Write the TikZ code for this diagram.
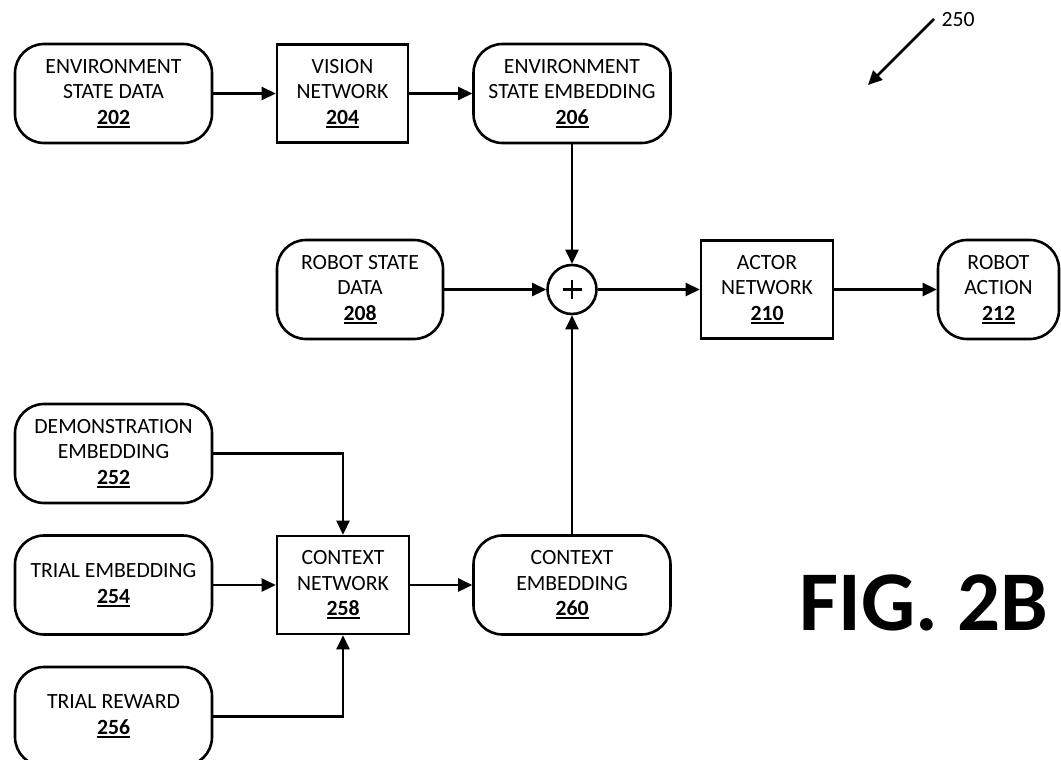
\documentclass[tikz,border=0pt]{standalone}
\usepackage{fontspec}
\setmainfont{Carlito}
\usetikzlibrary{arrows.meta}
\newcommand\rnum[1]{\setbox0\hbox{\textbf{#1}}\rlap{\rule[-3.5pt]{\wd0}{1.8pt}}\box0}
\begin{document}
\begin{tikzpicture}[x=1pt,y=-1pt,
  every node/.style={font=\fontsize{21.7}{25.5}\selectfont, align=center, inner sep=0pt},
  rbox/.style={draw, line width=2.6pt, rounded corners=29pt, minimum width=197pt, minimum height=99pt},
  sbox/.style={draw, line width=2.6pt, minimum height=98pt},
  conn/.style={line width=2.6pt, -{Triangle[length=14pt,width=13pt]}},
]
\useasboundingbox (0,0) rectangle (1061,760);
\clip (0,0) rectangle (1061,760);
% row 1
\node[rbox] (n202) at (113.5,93.5) {ENVIRONMENT\\STATE DATA\\\rnum{202}};
\node[sbox, minimum width=131pt] (n204) at (342.5,93.5) {VISION\\NETWORK\\\rnum{204}};
\node[rbox] (n206) at (572,93.5) {ENVIRONMENT\\STATE EMBEDDING\\\rnum{206}};
% row 2
\node[rbox, minimum width=166pt] (n208) at (360,289.5) {ROBOT STATE\\DATA\\\rnum{208}};
\node[draw, circle, line width=2.6pt, minimum size=49pt] (sum) at (572,289.5) {};
\draw[line width=2.8pt] ([xshift=-9.5pt]sum.center) -- ([xshift=9.5pt]sum.center);
\draw[line width=2.8pt] ([yshift=-9.5pt]sum.center) -- ([yshift=9.5pt]sum.center);
\node[sbox, minimum width=132pt] (n210) at (767,289.5) {ACTOR\\NETWORK\\\rnum{210}};
\node[rbox, minimum width=121pt] (n212) at (998.5,289.5) {ROBOT\\ACTION\\\rnum{212}};
% lower part
\node[rbox] (n252) at (113.5,453.5) {DEMONSTRATION\\EMBEDDING\\\rnum{252}};
\node[rbox] (n254) at (113.5,585) {TRIAL EMBEDDING\\\rnum{254}};
\node[rbox] (n256) at (113.5,716.5) {TRIAL REWARD\\\rnum{256}};
\node[sbox, minimum width=132pt] (n258) at (343,585) {CONTEXT\\NETWORK\\\rnum{258}};
\node[rbox] (n260) at (572,585) {CONTEXT\\EMBEDDING\\\rnum{260}};
% labels
\node (lbl) at (958,20) {250};
\coordinate (a0) at (934,19);
\coordinate (a1) at (868,85);
\node[font=\fontsize{85}{95}\selectfont\bfseries] (fig) at (924,603) {FIG. 2B};
% connectors
\draw[conn] (n202) -- (n204);
\draw[conn] (n204) -- (n206);
\draw[conn] (n206) -- (sum);
\draw[conn] (n208) -- (sum);
\draw[conn] (sum) -- (n210);
\draw[conn] (n210) -- (n212);
\draw[conn] (n252.east) -| (n258.north);
\draw[conn] (n254) -- (n258);
\draw[conn] (n256.east) -| (n258.south);
\draw[conn] (n258) -- (n260);
\draw[conn] (n260) -- (sum);
\draw[conn] (a0) -- (a1);
\end{tikzpicture}
\end{document}
